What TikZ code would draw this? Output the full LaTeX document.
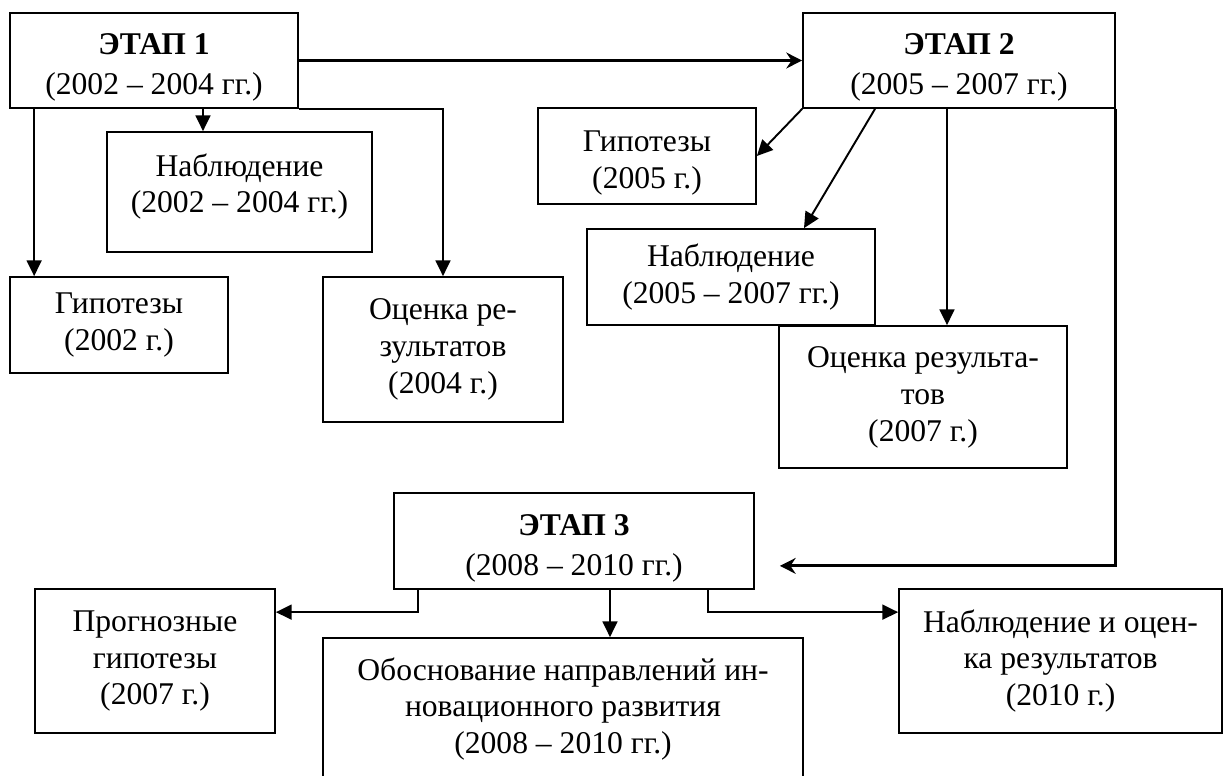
\documentclass[tikz,border=0pt]{standalone}
\usepackage{fontspec}
\setmainfont{Liberation Serif}
\usetikzlibrary{arrows.meta}

\newcommand{\boxtop}{\rule{0pt}{20pt}}
\newcommand{\boxbot}{\rule[-10pt]{0pt}{10pt}}

\tikzset{
  box/.style={draw, line width=1pt, inner sep=0pt, align=center,
    font=\fontsize{18}{21}\selectfont},
  arr/.style={line width=1.1pt, -{Triangle[length=9pt,width=8.5pt]}},
  bigarr/.style={line width=1.8pt, -{Stealth[length=9pt,width=9pt,inset=3pt]}}
}

\begin{document}
\begin{tikzpicture}[x=0.02cm, y=-0.02cm]

\useasboundingbox (0,0) rectangle (1226,775);
\clip (0,0) rectangle (1226,775);

% stage 1
\node [box, minimum width=5.76cm, minimum height=1.9cm] (e1) at (154,60.5)
    {\boxtop\textbf{ЭТАП 1}\\[2pt](2002 – 2004 гг.)};
\node [box, minimum width=5.3cm, minimum height=2.4cm] (n1) at (239.5,192)
    {Наблюдение\\(2002 – 2004 гг.)\boxbot};
\node [box, minimum width=4.36cm, minimum height=1.92cm] (g1) at (119,325)
    {Гипотезы\\(2002 г.)};
\node [box, minimum width=4.8cm, minimum height=2.9cm] (o1) at (443,349.5)
    {Оценка ре-\\зультатов\\(2004 г.)};

% stage 2
\node [box, minimum width=6.24cm, minimum height=1.9cm] (e2) at (959,60.5)
    {\boxtop\textbf{ЭТАП 2}\\[2pt](2005 – 2007 гг.)};
\node [box, minimum width=4.36cm, minimum height=1.92cm] (g2) at (647,156)
    {\boxtop Гипотезы\\(2005 г.)};
\node [box, minimum width=5.76cm, minimum height=1.92cm] (n2) at (731,277)
    {Наблюдение\\(2005 – 2007 гг.)};
\node [box, minimum width=5.76cm, minimum height=2.84cm] (o2) at (923,397)
    {Оценка результа-\\тов\\(2007 г.)};

% stage 3
\node [box, minimum width=7.2cm, minimum height=1.92cm] (e3) at (574,541)
    {\boxtop\textbf{ЭТАП 3}\\[2pt](2008 – 2010 гг.)};
\node [box, minimum width=4.8cm, minimum height=2.88cm] (p3) at (155,661)
    {Прогнозные\\гипотезы\\(2007 г.)};
\node [box, minimum width=9.6cm, minimum height=2.84cm] (ob) at (563,709)
    {Обоснование направлений ин-\\новационного развития\\(2008 – 2010 гг.)};
\node [box, minimum width=6.46cm, minimum height=2.88cm] (n3) at (1060.5,661)
    {Наблюдение и оцен-\\ка результатов\\(2010 г.)};

% stage 1 links
\draw [bigarr] (e1) -- (e2);
\coordinate (a1) at ([xshift=0.5cm]e1.south west);
\coordinate (a2) at ([xshift=0.98cm]e1.south);
\draw [arr] (a1) -- (a1 |- g1.north);
\draw [arr] (a2) -- (a2 |- n1.north);
\draw [arr] (e1.south east) -| (o1.north);

% stage 2 links
\coordinate (b1) at ([xshift=-1.68cm]e2.south);
\coordinate (b2) at ([xshift=1.46cm]n2.north);
\coordinate (b3) at ([xshift=-0.24cm]e2.south);
\coordinate (b4) at ([shift={(25,-24)}]e3.south east);
\draw [arr] (e2.south west) -- (g2.east);
\draw [arr] (b1) -- (b2);
\draw [arr] (b3) -- (b3 |- o2.north);
\draw [bigarr] (e2.south east) |- (b4);

% stage 3 links
\coordinate (c1) at ([xshift=0.5cm]e3.south west);
\coordinate (c2) at ([yshift=-0.48cm]p3.north east);
\coordinate (c3) at ([xshift=0.72cm]e3.south);
\coordinate (c4) at ([xshift=-0.94cm]e3.south east);
\coordinate (c5) at ([yshift=-0.48cm]n3.north west);
\draw [arr] (c1) |- (c2);
\draw [arr] (c3) -- (c3 |- ob.north);
\draw [arr] (c4) |- (c5);

\end{tikzpicture}
\end{document}
